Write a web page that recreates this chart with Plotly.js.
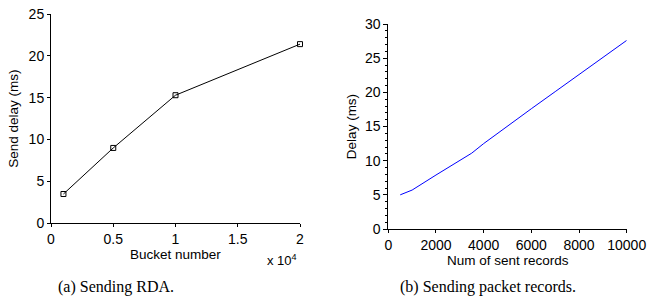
<!DOCTYPE html>
<html>
<head>
<meta charset="utf-8">
<script src="https://cdn.plot.ly/plotly-3.0.1.min.js"></script>
<style>
html,body{margin:0;padding:0;background:#fff;}
#chart{width:657px;height:301px;}
</style>
</head>
<body>
<div id="chart"></div>
<script>
// (a) Sending RDA.
const bucketNumber = [1000, 5000, 10000, 20000];
const sendDelay = [3.5, 9.0, 15.3, 21.4];
const bucketTickVals = [0, 5000, 10000, 15000, 20000];
const bucketTickText = ['0', '0.5', '1', '1.5', '2'];

// (b) Sending packet records.
const sentRecords = [500, 1000, 2000, 3000, 3500, 4000, 5000, 6000, 7000, 8000, 9000, 10000];
const recordDelay = [5.0, 5.7, 7.9, 10.0, 11.1, 12.5, 15.1, 17.6, 20.1, 22.6, 25.1, 27.6];

const axisFont = {family: 'Liberation Sans, Arial, Helvetica, sans-serif', size: 14, color: '#000'};
const titleFont = {family: 'Liberation Sans, Arial, Helvetica, sans-serif', size: 13.5, color: '#000'};
const captionFont = {family: 'Liberation Serif, Times New Roman, serif', size: 16, color: '#000'};

const common = {
  showline: true, linecolor: '#000', linewidth: 1,
  showgrid: false, zeroline: false,
  ticks: 'outside', ticklen: 3, tickwidth: 1, tickcolor: '#000',
  tickfont: axisFont, mirror: false
};

const traces = [
  {
    x: bucketNumber, y: sendDelay, xaxis: 'x', yaxis: 'y',
    type: 'scatter', mode: 'lines+markers',
    line: {color: '#000', width: 1},
    marker: {symbol: 'square-open', size: 5, color: '#000', line: {width: 1, color: '#000'}},
    cliponaxis: false, showlegend: false
  },
  {
    x: sentRecords, y: recordDelay, xaxis: 'x2', yaxis: 'y2',
    type: 'scatter', mode: 'lines',
    line: {color: '#0000ff', width: 1},
    cliponaxis: false, showlegend: false
  },
  {
    // same series bound to the minor-tick overlay axis, drawn invisible
    x: sentRecords, y: recordDelay, xaxis: 'x2', yaxis: 'y3',
    type: 'scatter', mode: 'lines', line: {width: 0, color: 'rgba(0,0,0,0)'},
    hoverinfo: 'skip', showlegend: false
  }
];

const layout = {
  width: 657, height: 301,
  margin: {l: 0, r: 0, t: 0, b: 0},
  paper_bgcolor: '#fff', plot_bgcolor: '#fff',
  showlegend: false,
  xaxis: Object.assign({}, common, {
    domain: [51/657, 300/657], anchor: 'y', range: [0, 20000],
    tickmode: 'array', tickvals: bucketTickVals, ticktext: bucketTickText
  }),
  yaxis: Object.assign({}, common, {
    domain: [(301-223.3)/301, (301-14)/301], anchor: 'x', range: [0, 25], dtick: 5, tick0: 0,
    title: {text: 'Send delay (ms)', font: titleFont, standoff: 6}
  }),
  xaxis2: Object.assign({}, common, {
    domain: [388.3/657, 626.7/657], anchor: 'y2', range: [0, 10000], dtick: 2000, tick0: 0,
    tickformat: 'd'
  }),
  yaxis2: Object.assign({}, common, {
    domain: [(301-229)/301, (301-24)/301], anchor: 'x2', range: [0, 30], dtick: 5, tick0: 0,
    ticklen: 4,
    title: {text: 'Delay (ms)', font: titleFont, standoff: 5}
  }),
  // overlay axis carrying the minor ticks of the right chart
  yaxis3: {
    overlaying: 'y2', anchor: 'x2', side: 'left', range: [0, 30], dtick: 1, tick0: 0,
    showline: false, showgrid: false, zeroline: false, showticklabels: false,
    ticks: 'outside', ticklen: 2.5, tickwidth: 1, tickcolor: '#000'
  },
  annotations: [
    {text: 'Bucket number', xref: 'paper', yref: 'paper', x: 175.5/657, y: (301-254.5)/301,
     xanchor: 'center', yanchor: 'middle', showarrow: false, font: titleFont},
    {text: 'Num of sent records', xref: 'paper', yref: 'paper', x: 507.5/657, y: (301-260)/301,
     xanchor: 'center', yanchor: 'middle', showarrow: false, font: titleFont},
    {text: 'x 10<sup>4</sup>', xref: 'paper', yref: 'paper', x: 299/657, y: (301-260)/301,
     xanchor: 'right', yanchor: 'middle', showarrow: false, font: {family: axisFont.family, size: 13, color: '#000'}},
    {text: '(a) Sending RDA.', xref: 'paper', yref: 'paper', x: 116/657, y: (301-287)/301,
     xanchor: 'center', yanchor: 'middle', showarrow: false, font: captionFont},
    {text: '(b) Sending packet records.', xref: 'paper', yref: 'paper', x: 488/657, y: (301-287)/301,
     xanchor: 'center', yanchor: 'middle', showarrow: false, font: captionFont}
  ]
};

Plotly.newPlot('chart', traces, layout, {staticPlot: true, displayModeBar: false});
</script>
</body>
</html>
